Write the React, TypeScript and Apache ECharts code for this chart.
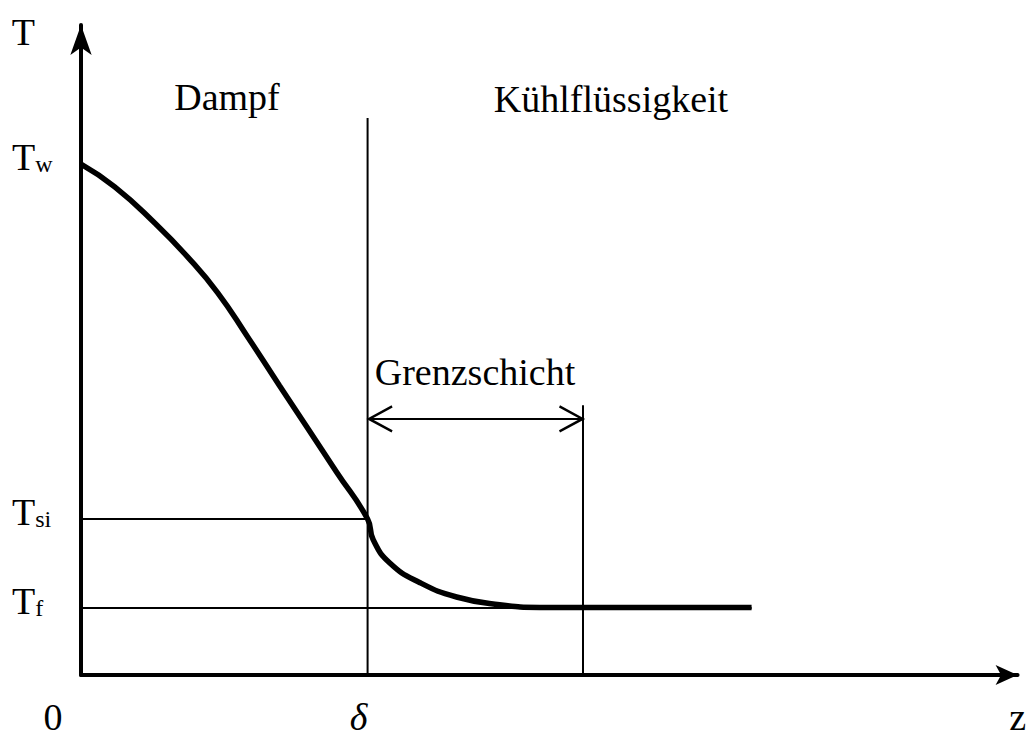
import React, { useEffect, useRef } from "react";
import * as echarts from "echarts";

// Axis extents (arbitrary units)
const X_MAX = 100;
const Y_MAX = 100;

// Characteristic values
const T_W = 78.6;
const T_SI = 24.0;
const T_F = 10.3;
const DELTA = 30.6;
const GRENZ_END = 53.6;
const DELTA_LINE_TOP = 85.7;
const GRENZ_LINE_TOP = 41.5;
const ARROW_Y = 39.4;
const TF_LINE_END = 71.6;

// Temperature profile T(z)
const curveZ = [0, 3.6, 7.9, 11.4, 14.6, 17.8, 21.2, 24.1, 27.3, 30.6, 31.2, 33.0, 36.2, 40.1, 44.7, 49.0, 71.6];
const curveT = [78.6, 75.1, 69.5, 64.3, 58.8, 52.0, 44.5, 38.2, 31.2, 24.0, 20.8, 17.2, 14.2, 12.0, 10.8, 10.4, 10.4];

// Texts
const yTickLabels = ["{t|T}{s|f}", "{t|T}{s|si}", "{t|T}{s|w}"];
const yTickValues = [T_F, T_SI, T_W];
const xTickValues = [0, DELTA, X_MAX];
const xTickLabels = ["{zero|0}", "{delta|δ}", "{z|z}"];
const regionLabels = ["Dampf", "Kühlflüssigkeit", "Grenzschicht"];

const FONT = '"Liberation Serif", "DejaVu Serif", serif';

export default function App() {
  const ref = useRef<HTMLDivElement>(null);
  useEffect(() => {
    if (!ref.current) return;
    const chart = echarts.init(ref.current, undefined, { renderer: "svg" });
    const black = "#000";
    const thin = { color: black, width: 2 };
    const textStyle = (x: number, y: number, text: string) => ({
      type: "text",
      x,
      y,
      style: {
        text,
        font: `38px ${FONT}`,
        fill: black,
        align: "center",
        textAlign: "center",
        verticalAlign: "middle",
        textVerticalAlign: "middle",
      },
    });
    chart.setOption({
      animation: false,
      backgroundColor: "#fff",
      grid: { left: 81, right: 11, top: 25, bottom: 63, containLabel: false },
      xAxis: {
        type: "value",
        min: 0,
        max: X_MAX,
        axisLine: {
          show: true,
          onZero: false,
          lineStyle: { color: black, width: 4 },
          symbol: ["none", "arrow"],
          symbolSize: [15, 22],
        },
        axisTick: { show: false },
        splitLine: { show: false },
        axisLabel: {
          customValues: xTickValues,
          margin: 23,
          color: black,
          fontFamily: FONT,
          fontSize: 38,
          formatter: (v: number) => {
            const i = xTickValues.findIndex((t) => Math.abs(t - v) < 1e-6);
            return i >= 0 ? xTickLabels[i] : "";
          },
          rich: {
            zero: { fontFamily: FONT, fontSize: 38, color: black, padding: [0, 56, 0, 0] },
            delta: { fontFamily: FONT, fontSize: 38, color: black, fontStyle: "italic", padding: [0, 18, 0, 0] },
            z: { fontFamily: FONT, fontSize: 38, color: black },
          },
        },
      },
      yAxis: {
        type: "value",
        min: 0,
        max: Y_MAX,
        name: "T",
        nameLocation: "end",
        nameGap: -7,
        nameTextStyle: {
          fontFamily: FONT,
          fontSize: 38,
          color: black,
          align: "right",
          verticalAlign: "middle",
          padding: [0, 46, 0, 0],
        },
        axisLine: {
          show: true,
          onZero: false,
          lineStyle: { color: black, width: 4 },
          symbol: ["none", "arrow"],
          symbolSize: [16, 30],
        },
        axisTick: { show: false },
        splitLine: { show: false },
        axisLabel: {
          customValues: yTickValues,
          align: "left",
          margin: 69,
          padding: [0, 0, 14, 0],
          color: black,
          fontFamily: FONT,
          fontSize: 38,
          formatter: (v: number) => {
            const i = yTickValues.findIndex((t) => Math.abs(t - v) < 1e-6);
            return i >= 0 ? yTickLabels[i] : "";
          },
          rich: {
            t: { fontFamily: FONT, fontSize: 38, color: black, verticalAlign: "bottom" },
            s: { fontFamily: FONT, fontSize: 24, color: black, verticalAlign: "bottom" },
          },
        },
      },
      graphic: [
        textStyle(227, 97, regionLabels[0]),
        textStyle(611, 99, regionLabels[1]),
        textStyle(475, 372, regionLabels[2]),
      ],
      series: [
        {
          name: "Tsi",
          type: "line",
          symbol: "none",
          z: 2,
          lineStyle: thin,
          data: [[0, T_SI], [DELTA, T_SI]],
        },
        {
          name: "Tf",
          type: "line",
          symbol: "none",
          z: 2,
          lineStyle: thin,
          data: [[0, T_F], [TF_LINE_END, T_F]],
        },
        {
          name: "delta",
          type: "line",
          symbol: "none",
          z: 2,
          lineStyle: thin,
          data: [[DELTA, 0], [DELTA, DELTA_LINE_TOP]],
        },
        {
          name: "grenz",
          type: "line",
          symbol: "none",
          z: 2,
          lineStyle: thin,
          data: [[GRENZ_END, 0], [GRENZ_END, GRENZ_LINE_TOP]],
        },
        {
          name: "arrow",
          type: "line",
          z: 2,
          lineStyle: thin,
          showSymbol: true,
          showAllSymbol: true,
          itemStyle: { color: "transparent", borderColor: black, borderWidth: 2.5 },
          data: [
            {
              value: [DELTA, ARROW_Y],
              symbol: "path://M24,0L0,12L24,24",
              symbolSize: [23, 25],
              symbolOffset: [13, 0],
            },
            {
              value: [GRENZ_END, ARROW_Y],
              symbol: "path://M0,0L24,12L0,24",
              symbolSize: [23, 25],
              symbolOffset: [-12, 0],
            },
          ],
        },
        {
          name: "T(z)",
          type: "line",
          symbol: "none",
          smooth: 0.5,
          z: 3,
          lineStyle: { color: black, width: 5.5 },
          data: curveZ.map((z, i) => [z, curveT[i]]),
        },
      ],
    });
    return () => chart.dispose();
  }, []);
  return (
    <div
      ref={ref}
      style={{ position: "absolute", left: 0, top: 0, width: 1029, height: 738, background: "#fff" }}
    />
  );
}
